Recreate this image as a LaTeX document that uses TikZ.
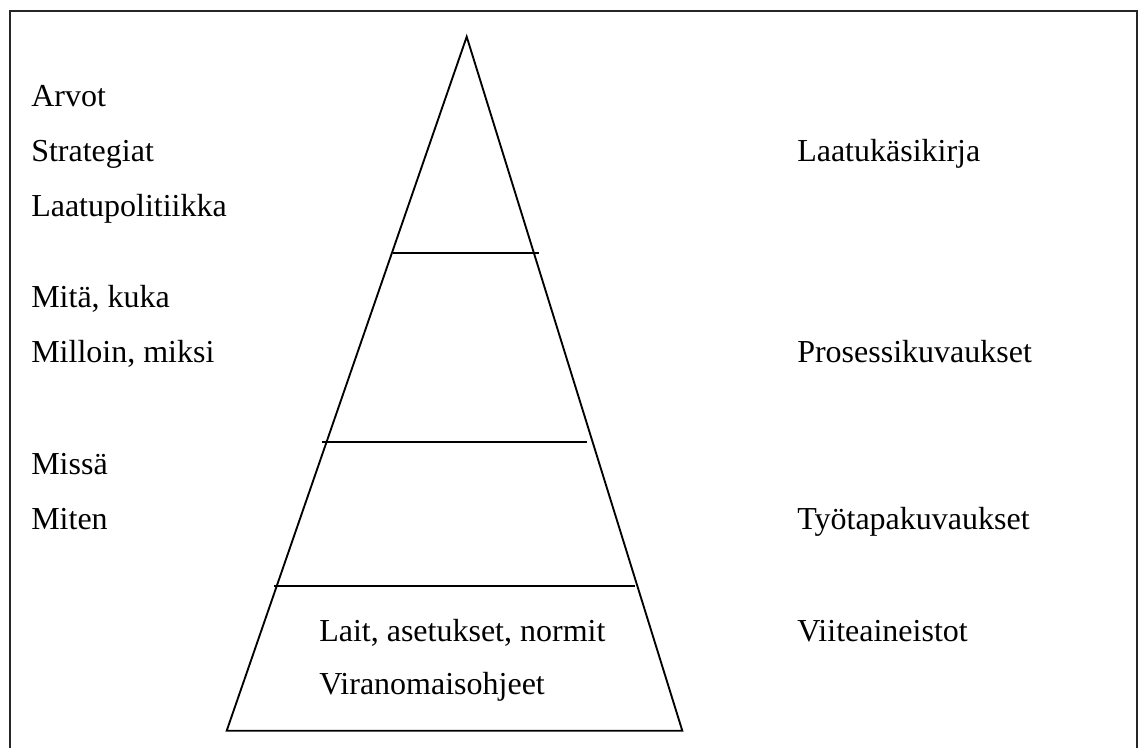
\documentclass[tikz,border=0pt]{standalone}
\usepackage{fontspec}
\setmainfont{Liberation Serif}
\begin{document}
\begin{tikzpicture}[x=0.75pt,y=-0.75pt,
  frame/.style={line width=1.3pt,black!85},
  edge/.style={line width=1.4pt,black},
  lbl/.style={anchor=base west,inner sep=0pt,font=\fontsize{24}{28}\selectfont}]
\useasboundingbox (0,0) rectangle (1138,747);
% open frame around the figure
\draw[frame] (10,750) -- (10,10.7) -- (1137,10.7) -- (1137,750);
% pyramid
\coordinate (apex) at (466.7,36.7);
\coordinate (bl) at (226.7,730.7);
\coordinate (br) at (682.3,730.7);
\draw[edge,line join=miter] (bl) -- (apex) -- (br) -- cycle;
% level dividers
\coordinate (d1a) at (393.3,252.7); \coordinate (d1b) at (539,252.7);
\coordinate (d2a) at (321.7,442.3); \coordinate (d2b) at (586.7,442.3);
\coordinate (d3a) at (274,586.3);   \coordinate (d3b) at (635,586.3);
\draw[edge] (d1a) -- (d1b);
\draw[edge] (d2a) -- (d2b);
\draw[edge] (d3a) -- (d3b);
% left column
\node[lbl] (arvot) at (31,106) {Arvot};
\node[lbl] (strat) at (31,161) {Strategiat};
\node[lbl] (lpol) at (31,216) {Laatupolitiikka};
\node[lbl] (mita) at (31,307) {Mitä, kuka};
\node[lbl] (milloin) at (31,362) {Milloin, miksi};
\node[lbl] (missa) at (31,474) {Missä};
\node[lbl] (miten) at (31,529) {Miten};
% base of the pyramid
\node[lbl] (lait) at (319,641) {Lait, asetukset, normit};
\node[lbl] (viran) at (319,694) {Viranomaisohjeet};
% right column
\node[lbl] (lkk) at (797,161) {Laatukäsikirja};
\node[lbl] (prk) at (797,362) {Prosessikuvaukset};
\node[lbl] (tyo) at (797,529) {Työtapakuvaukset};
\node[lbl] (viite) at (797,641) {Viiteaineistot};
\end{tikzpicture}
\end{document}
